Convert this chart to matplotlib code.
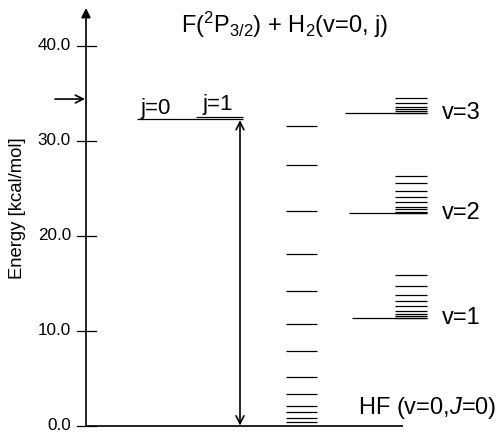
import matplotlib
matplotlib.use("Agg")
import matplotlib.pyplot as plt

plt.rcParams['font.family'] = ['Liberation Sans', 'DejaVu Sans']
plt.rcParams['mathtext.fontset'] = 'custom'
plt.rcParams['mathtext.rm'] = 'Liberation Sans'
plt.rcParams['mathtext.it'] = 'Liberation Sans:italic'

# energies in kcal/mol
yticks = [0.0, 10.0, 20.0, 30.0, 40.0]
ytick_labels = ["0.0", "10.0", "20.0", "30.0", "40.0"]
e_coll = 34.4                       # collision energy arrow
e_h2_j = [32.25, 32.5]              # F + H2(v=0, j=0 / j=1)
j_labels = ["j=0", "j=1"]
hf_v0 = [0.37, 0.79, 1.4, 2.05, 3.3, 5.1, 7.87, 10.68, 14.16, 18.05, 22.65, 27.4, 31.6]
hf_v1 = [11.35, 11.5, 11.8, 12.1, 12.6, 13.1, 13.8, 14.7, 15.9]
hf_v2 = [22.4, 22.5, 22.8, 23.0, 23.5, 24.1, 24.7, 25.6, 26.3]
hf_v3 = [32.95, 33.1, 33.3, 33.6, 34.0, 34.5]
vib_levels = [0.0, 11.35, 22.4, 32.95]
vib_labels = ["", "v=1", "v=2", "v=3"]

# pixel -> energy mapping (0 at y=425.5, 9.49 px per kcal/mol)
px0, sc = 425.5, 9.49

fig = plt.figure(figsize=(5.0, 4.32), dpi=100)
ax = fig.add_axes([0, 0, 1, 1])
ax.set_xlim(0, 500)
ax.set_ylim((px0 - 432) / sc, px0 / sc)
ax.axis("off")

lw = 0.9
ax_x = 86
# energy axis with filled arrow head
ax.annotate("", xy=(ax_x, (px0 - 8) / sc), xytext=(ax_x, 0),
            arrowprops=dict(arrowstyle="-|>", color="black", lw=1.2,
                            mutation_scale=14, shrinkA=0, shrinkB=0))
for t, lab in zip(yticks, ytick_labels):
    ax.plot([77, 96], [t, t], color="black", lw=lw)
    ax.text(71, t, lab, ha="right", va="center", fontsize=12.3)
ax.text(18, 22.9, "Energy [kcal/mol]", rotation=90, ha="center", va="center",
        fontsize=13.3)

# collision energy arrow
ax.annotate("", xy=(85, e_coll), xytext=(55, e_coll),
            arrowprops=dict(arrowstyle="->", color="black", lw=1.2,
                            mutation_scale=14, shrinkA=0, shrinkB=0))

# reactant levels
ax.hlines(e_h2_j[0], 137, 243, color="black", lw=lw)
ax.hlines(e_h2_j[1], 196, 243, color="black", lw=lw)
ax.text(140, e_h2_j[0] + 0.55, j_labels[0], ha="left", va="baseline", fontsize=16)
ax.text(203, e_h2_j[1] + 0.75, j_labels[1], ha="left", va="baseline", fontsize=16)

# available energy double arrow
ax.annotate("", xy=(240, 0), xytext=(240, e_h2_j[0]),
            arrowprops=dict(arrowstyle="<->", color="black", lw=1.2,
                            mutation_scale=14, shrinkA=0.5, shrinkB=0))

# HF(v=0) rotational ladder and baseline
ax.hlines(vib_levels[0], ax_x, 403, color="black", lw=1.2)
ax.hlines(hf_v0, 286, 317, color="black", lw=lw)

# vibrational manifolds
starts = [None, 352, 349, 345]
for v, ladder in zip([1, 2, 3], [hf_v1, hf_v2, hf_v3]):
    ax.hlines(vib_levels[v], starts[v], 427, color="black", lw=lw)
    ax.hlines(ladder, 395, 427, color="black", lw=lw)
    ax.text(442, vib_levels[v], vib_labels[v], ha="left", va="center", fontsize=17)

ax.text(358, 1.85, r"HF (v=0,$J$=0)", ha="left", va="center", fontsize=17)
ax.text(285, 42.2, r"F($\mathregular{^2}$P$\mathregular{_{3/2}}$) + H$\mathregular{_2}$(v=0, j)",
        ha="center", va="center", fontsize=17)

fig.savefig("out.png", dpi=100)
